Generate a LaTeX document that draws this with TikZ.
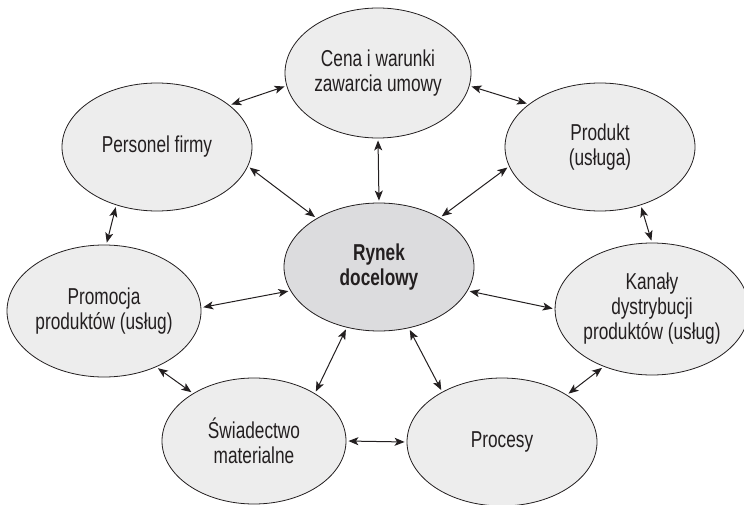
\documentclass[tikz,border=0pt]{standalone}
\usepackage{fontspec}
\setmainfont{Liberation Sans}[FakeStretch=0.75]
\usetikzlibrary{shapes.geometric,arrows.meta}
\definecolor{outerfill}{HTML}{EDEDED}
\definecolor{innerfill}{HTML}{DCDCDE}
\definecolor{ink}{HTML}{231F20}
\begin{document}
\begin{tikzpicture}[x=1pt,y=-1pt,
  ell/.style={ellipse,draw=ink,line width=0.8pt,fill=outerfill,inner sep=0pt,
    align=center,font=\fontsize{23}{25}\selectfont,text=ink},
  conn/.style={{Stealth[length=10pt,width=8pt,inset=2.5pt]}-{Stealth[length=10pt,width=8pt,inset=2.5pt]},
    line width=1pt,draw=ink,shorten <=2pt,shorten >=2pt}]
\useasboundingbox (0,0) rectangle (744,505);
\node[ell,minimum width=186pt,minimum height=130pt] (cena) at (378,73) {Cena i warunki\\zawarcia umowy};
\node[ell,minimum width=190pt,minimum height=128pt] (pers) at (157,147) {Personel firmy};
\node[ell,minimum width=190pt,minimum height=128pt] (prod) at (600,147) {Produkt\\(usługa)};
\node[ell,minimum width=190pt,minimum height=128pt,fill=innerfill,font=\fontsize{23}{25}\selectfont\bfseries] (rynek) at (379,267) {Rynek\\docelowy};
\node[ell,minimum width=194pt,minimum height=132pt] (prom) at (104,311) {Promocja\\produktów (usług)};
\node[ell,minimum width=184pt,minimum height=132pt] (kan) at (652,309) {Kanały\\dystrybucji\\produktów (usług)};
\node[ell,minimum width=184pt,minimum height=126pt] (swiad) at (254,441) {Świadectwo\\materialne};
\node[ell,minimum width=190pt,minimum height=128pt] (proc) at (502,442) {Procesy};

\draw[conn] (pers.30) -- (cena.188);
\draw[conn] (cena.352) -- (prod.149);
\draw[conn] (cena.270) -- (rynek.90);
\draw[conn] (pers.348) -- (rynek.142);
\draw[conn] (prod.192) -- (rynek.39);
\draw[conn] (pers.235) -- (prom.88);
\draw[conn] (prod.305) -- (kan.90);
\draw[conn] (prom.2) -- (rynek.195);
\draw[conn] (kan.180) -- (rynek.345);
\draw[conn] (prom.313) -- (swiad.142);
\draw[conn] (kan.230) -- (proc.36);
\draw[conn] (rynek.242) -- (swiad.38);
\draw[conn] (rynek.296) -- (proc.140);
\draw[conn] (swiad.0) -- (proc.180);
\end{tikzpicture}
\end{document}
